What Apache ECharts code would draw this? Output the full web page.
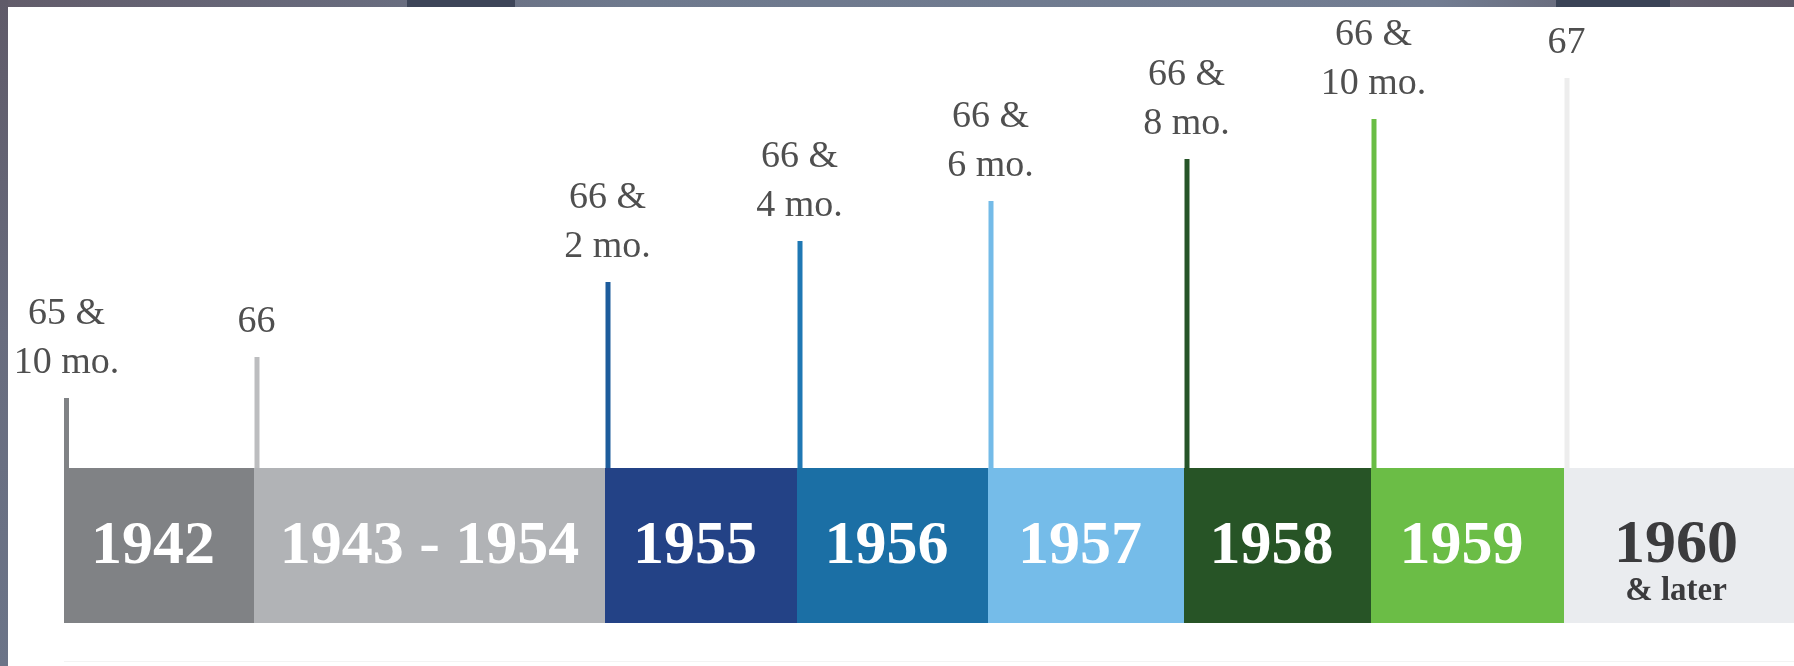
<!DOCTYPE html>
<html>
<head>
<meta charset="utf-8">
<script src="https://cdn.jsdelivr.net/npm/echarts@6/dist/echarts.min.js"></script>
<style>
  html, body { margin: 0; padding: 0; background: #ffffff; }
  #chart { width: 1794px; height: 666px; }
</style>
</head>
<body>
<div id="chart"></div>
<script>
// ---- data ----
const categories = ['1942', '1943 - 1954', '1955', '1956', '1957', '1958', '1959', '1960'];
const subLabels = ['', '', '', '', '', '', '', '& later'];
const segmentWidths = [190, 351, 192, 191, 196, 187, 193, 240];   // relative widths of the birth-year blocks
const barValue = 155;                                             // height of the block band
const stemTops = [225, 266, 341, 382, 422, 464, 504, 545];        // top of each marker line
const ageLabels = ['65 &\n10 mo.', '66', '66 &\n2 mo.', '66 &\n4 mo.', '66 &\n6 mo.', '66 &\n8 mo.', '66 &\n10 mo.', '67'];

// ---- styles ----
const barColors = ['#808285', '#b1b3b6', '#234286', '#1b6fa5', '#75bce9', '#275426', '#6bbd46', '#eaecef'];
const stemColors = ['#808285', '#bcbdbf', '#1d5c9c', '#1f78b4', '#74bbe8', '#265428', '#6abd45', '#ededed'];
const yearTextColors = ['#ffffff', '#ffffff', '#ffffff', '#ffffff', '#ffffff', '#ffffff', '#ffffff', '#3b3b3d'];

const starts = [];
let acc = 0;
segmentWidths.forEach(w => { starts.push(acc); acc += w; });

const barData = categories.map((c, i) => [starts[i], starts[i] + segmentWidths[i], barValue, i]);
const stemData = stemTops.map((t, i) => [starts[i], t, i]);

const chart = echarts.init(document.getElementById('chart'), null, { renderer: 'canvas' });

const option = {
  backgroundColor: '#ffffff',
  animation: false,
  grid: { left: 64, right: 0, top: 0, bottom: 43, containLabel: false },
  xAxis: { type: 'value', min: 0, max: 1730, show: false },
  yAxis: { type: 'value', min: 0, max: 623, show: false },
  graphic: [
    { type: 'rect', z: 100, shape: { x: 0, y: 0, width: 1794, height: 7 },
      style: { fill: new echarts.graphic.LinearGradient(0, 0, 1, 0, [
        { offset: 0, color: '#625c6a' }, { offset: 0.2, color: '#686b7d' },
        { offset: 0.35, color: '#6e798d' }, { offset: 0.8, color: '#727d92' },
        { offset: 0.93, color: '#625f6e' }, { offset: 1, color: '#5e5967' }]) } },
    { type: 'rect', z: 101, shape: { x: 407, y: 0, width: 108, height: 7 }, style: { fill: '#3d4558' } },
    { type: 'rect', z: 101, shape: { x: 1556, y: 0, width: 114, height: 7 }, style: { fill: '#3a4356' } },
    { type: 'rect', z: 100, shape: { x: 0, y: 0, width: 8, height: 666 },
      style: { fill: new echarts.graphic.LinearGradient(0, 0, 0, 1, [
        { offset: 0, color: '#5f5a68' }, { offset: 0.5, color: '#686c7e' }, { offset: 1, color: '#6b7488' }]) } },
    { type: 'rect', z: 1, shape: { x: 64, y: 661, width: 1730, height: 1 }, style: { fill: '#f3f3f3' } }
  ],
  series: [
    {
      type: 'custom',
      name: 'stems',
      z: 1,
      data: stemData,
      renderItem: function (params, api) {
        const i = api.value(2);
        const base = api.coord([api.value(0), barValue]);
        const top = api.coord([api.value(0), api.value(1)]);
        return {
          type: 'group',
          children: [
            { type: 'rect', shape: { x: base[0] + (i === 0 ? 0 : 0.5), y: top[1], width: 5, height: base[1] - top[1] + 2 },
              style: { fill: stemColors[i] } },
            { type: 'text', style: {
                text: ageLabels[i], x: base[0] + 2.5, y: top[1] - 10,
                align: 'center', verticalAlign: 'bottom',
                font: '38px "Liberation Serif", "DejaVu Serif", serif',
                lineHeight: 49, fill: '#4f4f4f' } }
          ]
        };
      }
    },
    {
      type: 'custom',
      name: 'blocks',
      z: 2,
      data: barData,
      renderItem: function (params, api) {
        const i = api.value(3);
        const p0 = api.coord([api.value(0), 0]);
        const p1 = api.coord([api.value(1), api.value(2)]);
        const cx = (p0[0] + p1[0]) / 2;
        const cy = (p0[1] + p1[1]) / 2;
        const children = [
          { type: 'rect', shape: { x: p0[0], y: p1[1], width: p1[0] - p0[0], height: p0[1] - p1[1] },
            style: { fill: barColors[i] } }
        ];
        if (subLabels[i]) {
          children.push({ type: 'text', style: {
            text: categories[i], x: cx - 8, y: cy, align: 'center', verticalAlign: 'middle',
            font: 'bold 62px "Liberation Serif", "DejaVu Serif", serif', fill: yearTextColors[i] } });
          children.push({ type: 'text', style: {
            text: subLabels[i], x: cx - 8, y: cy + 46, align: 'center', verticalAlign: 'middle',
            font: 'bold 33px "Liberation Serif", "DejaVu Serif", serif', fill: yearTextColors[i] } });
        } else {
          children.push({ type: 'text', style: {
            text: categories[i], x: cx - (i === 1 ? 0 : 6), y: cy + 1, align: 'center', verticalAlign: 'middle',
            font: 'bold 62px "Liberation Serif", "DejaVu Serif", serif', fill: yearTextColors[i] } });
        }
        return { type: 'group', children: children };
      }
    }
  ]
};

chart.setOption(option);
</script>
</body>
</html>
